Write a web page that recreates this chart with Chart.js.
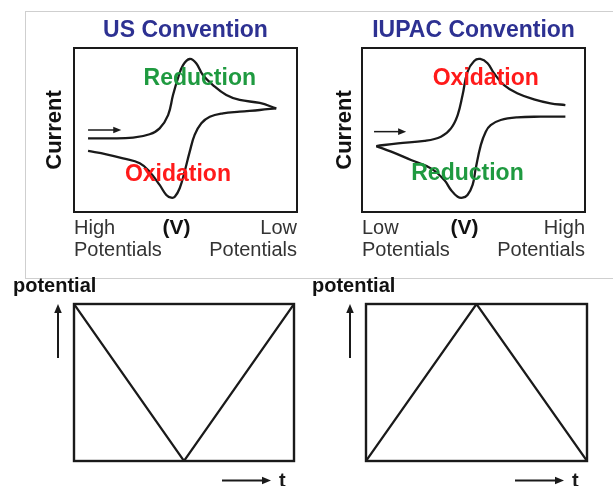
<!DOCTYPE html>
<html>
<head>
<meta charset="utf-8">
<script src="https://cdn.jsdelivr.net/npm/chart.js@4.4.1/dist/chart.umd.min.js"></script>
<style>
  html, body { margin: 0; padding: 0; background: #fff; }
  body { width: 613px; height: 486px; position: relative; overflow: hidden; }
  #frame { position: absolute; left: 25px; top: 11px; width: 640px; height: 266px; border: 1px solid #cfcfcf; }
  canvas { position: absolute; }
</style>
</head>
<body>
<div id="frame"></div>
<canvas id="usChart" width="306" height="270" style="left:0;top:0"></canvas>
<canvas id="iupacChart" width="307" height="270" style="left:306px;top:0"></canvas>
<canvas id="usSweep" width="306" height="216" style="left:0;top:270px"></canvas>
<canvas id="iupacSweep" width="307" height="216" style="left:306px;top:270px"></canvas>
<script>
// Voltammograms, x = position along the potential axis (0-100), y = current (0-100)
const usForwardX = [6.3, 14.5, 26.5, 33.9, 38.4, 42.2, 44.4, 46.6, 48.9, 51.9, 54.8, 57.8, 62.3, 68.3, 74.3, 83.3, 90.7];
const usForwardY = [44.9, 44.9, 45.3, 47.4, 51.0, 59.1, 71.3, 81.5, 89.6, 93.3, 90.7, 83.5, 77.4, 71.3, 68.3, 66.5, 63.2];
const usReverseX = [90.7, 83.3, 74.3, 66.8, 60.9, 57.1, 54.1, 51.9, 49.6, 47.4, 45.2, 43.6, 41.4, 38.4, 33.9, 29.5, 22.0, 14.5, 6.3];
const usReverseY = [63.2, 62.2, 61.2, 60.2, 58.1, 54.1, 47.0, 36.8, 24.6, 14.5, 9.3, 8.7, 10.4, 16.5, 24.6, 29.7, 32.7, 35.2, 37.2];

const iupacForwardX = [6.4, 16.1, 28.0, 35.4, 39.9, 42.9, 45.1, 47.3, 50.3, 53.0, 56.3, 59.2, 63.7, 69.6, 77.1, 84.5, 91.2];
const iupacForwardY = [40.2, 41.9, 43.3, 45.9, 51.0, 59.1, 71.3, 85.5, 92.1, 93.3, 90.7, 84.6, 77.4, 72.4, 68.7, 66.3, 65.2];
const iupacReverseX = [6.4, 13.1, 22.0, 30.9, 36.9, 39.9, 42.9, 45.1, 47.3, 49.6, 51.0, 53.3, 55.5, 57.7, 62.2, 69.6, 80.0, 91.2];
const iupacReverseY = [40.2, 36.8, 31.7, 26.6, 19.5, 13.4, 9.3, 8.7, 10.4, 16.5, 26.6, 40.9, 49.0, 53.0, 56.1, 57.7, 58.1, 58.1];

// x tick labels under the voltammograms
const cvTickValues = [0, 46, 100];
const usTickLabels = [['High', 'Potentials'], '(V)', ['Low', 'Potentials']];
const iupacTickLabels = [['Low', 'Potentials'], '(V)', ['High', 'Potentials']];

// potential sweeps
const sweepTime = [0, 1, 2];
const usSweepPotential = [1, 0, 1];
const iupacSweepPotential = [0, 1, 0];

const FONT = "'Liberation Sans', Arial, Helvetica, sans-serif";
Chart.defaults.font.family = FONT;

const GREEN = '#1f9a40';
const RED = '#ff1a1a';
const INK = '#1a1a1a';

const zip = (xs, ys) => xs.map((x, i) => ({x: x, y: ys[i]}));

function drawArrow(ctx, x0, y0, x1, y1, width, head) {
    const a = Math.atan2(y1 - y0, x1 - x0);
    const cos = Math.cos(a), sin = Math.sin(a);
    ctx.lineWidth = width;
    ctx.beginPath();
    ctx.moveTo(x0, y0);
    ctx.lineTo(x1 - cos * head * 0.8, y1 - sin * head * 0.8);
    ctx.stroke();
    ctx.beginPath();
    ctx.moveTo(x1, y1);
    ctx.lineTo(x1 - cos * head - sin * head * 0.42, y1 - sin * head + cos * head * 0.42);
    ctx.lineTo(x1 - cos * head + sin * head * 0.42, y1 - sin * head - cos * head * 0.42);
    ctx.closePath();
    ctx.fill();
}

// frame around the plot, text notes and arrows
const notesPlugin = {
    id: 'notes',
    afterDatasetsDraw(chart, args, opts) {
        const {ctx, chartArea: a, scales: {x, y}} = chart;
        ctx.save();
        ctx.strokeStyle = INK;
        ctx.fillStyle = INK;
        ctx.lineWidth = opts.frameWidth || 2;
        ctx.strokeRect(a.left, a.top, a.right - a.left, a.bottom - a.top);

        (opts.arrows || []).forEach(ar => {
            drawArrow(ctx, x.getPixelForValue(ar.from[0]), y.getPixelForValue(ar.from[1]),
                x.getPixelForValue(ar.to[0]), y.getPixelForValue(ar.to[1]), 1.5, 8);
        });

        if (opts.sweepArrows) {
            drawArrow(ctx, a.left - 16, a.top + 54, a.left - 16, a.top, 2, 9);
            drawArrow(ctx, a.right - 72, a.bottom + 19.5, a.right - 23, a.bottom + 19.5, 2, 9);
            ctx.font = 'bold 20px ' + FONT;
            ctx.textAlign = 'left';
            ctx.textBaseline = 'middle';
            ctx.fillText('t', a.right - 15, a.bottom + 20);
        }

        (opts.labels || []).forEach(l => {
            ctx.font = 'bold 23px ' + FONT;
            ctx.fillStyle = l.color;
            ctx.textAlign = 'center';
            ctx.textBaseline = 'middle';
            ctx.fillText(l.text, x.getPixelForValue(l.x), y.getPixelForValue(l.y));
        });
        ctx.restore();
    }
};

function curve(points) {
    return {
        data: points,
        showLine: true,
        borderColor: INK,
        borderWidth: 2.3,
        pointRadius: 0,
        tension: 0.4,
        fill: false
    };
}

function makeCvChart(id, title, forward, reverse, tickLabels, notes, padRight, yTitlePad) {
    return new Chart(document.getElementById(id), {
        type: 'scatter',
        data: {datasets: [curve(forward), curve(reverse)]},
        options: {
            responsive: false,
            animation: false,
            layout: {padding: {left: 0, right: padRight, top: 0, bottom: 4}},
            plugins: {
                legend: {display: false},
                tooltip: {enabled: false},
                title: {
                    display: true,
                    text: title,
                    color: '#2d3192',
                    fullSize: false,
                    font: {size: 23, weight: 'bold', lineHeight: 1.2},
                    padding: {top: 17.2, bottom: 3.2}
                },
                notes: notes
            },
            scales: {
                x: {
                    type: 'linear',
                    min: 0,
                    max: 100,
                    grid: {display: false, drawTicks: false},
                    border: {display: false},
                    afterBuildTicks: axis => { axis.ticks = cvTickValues.map(v => ({value: v})); },
                    ticks: {
                        autoSkip: false,
                        maxRotation: 0,
                        align: 'inner',
                        padding: 5,
                        callback: (value, index) => tickLabels[index],
                        color: ctx => ctx.index === 1 ? '#111' : '#333',
                        font: ctx => ctx.index === 1
                            ? {size: 21, weight: 'bold', lineHeight: 1.1}
                            : {size: 20, lineHeight: 1.1}
                    }
                },
                y: {
                    min: 0,
                    max: 100,
                    grid: {display: false, drawTicks: false},
                    border: {display: false},
                    ticks: {display: false},
                    title: {
                        display: true,
                        text: 'Current',
                        color: '#111',
                        font: {size: 22, weight: 'bold', lineHeight: 1.2},
                        padding: yTitlePad
                    }
                }
            }
        },
        plugins: [notesPlugin]
    });
}

function makeSweepChart(id, potential, pad, axisWidth) {
    return new Chart(document.getElementById(id), {
        type: 'scatter',
        data: {
            datasets: [{
                data: zip(sweepTime, potential),
                showLine: true,
                borderColor: INK,
                borderWidth: 2.2,
                pointRadius: 0,
                tension: 0
            }]
        },
        options: {
            responsive: false,
            animation: false,
            layout: {padding: pad},
            plugins: {
                legend: {display: false},
                tooltip: {enabled: false},
                title: {
                    display: true,
                    text: 'potential',
                    align: 'start',
                    color: '#111',
                    font: {size: 20, weight: 'bold', lineHeight: 1.2},
                    padding: {top: 4, bottom: 6}
                },
                notes: {sweepArrows: true, frameWidth: 2.4}
            },
            scales: {
                x: {display: false, type: 'linear', min: 0, max: 2},
                y: {
                    min: 0,
                    max: 1,
                    grid: {display: false, drawTicks: false},
                    border: {display: false},
                    ticks: {display: false},
                    afterFit: scale => { scale.width = axisWidth; }
                }
            }
        },
        plugins: [notesPlugin]
    });
}

makeCvChart('usChart', 'US Convention',
    zip(usForwardX, usForwardY), zip(usReverseX, usReverseY), usTickLabels,
    {
        labels: [
            {text: 'Reduction', color: GREEN, x: 56.4, y: 81.5},
            {text: 'Oxidation', color: RED, x: 46.6, y: 22.6}
        ],
        arrows: [{from: [6.3, 50], to: [21.2, 50]}]
    },
    9, {top: 41.8, bottom: 5.8});

makeCvChart('iupacChart', 'IUPAC Convention',
    zip(iupacForwardX, iupacForwardY), zip(iupacReverseX, iupacReverseY), iupacTickLabels,
    {
        labels: [
            {text: 'Oxidation', color: RED, x: 55.5, y: 81.5},
            {text: 'Reduction', color: GREEN, x: 47.3, y: 23.6}
        ],
        arrows: [{from: [5.4, 49], to: [19.8, 49]}]
    },
    28, {top: 25.8, bottom: 3.8});

makeSweepChart('usSweep', usSweepPotential, {left: 13, right: 12, top: 0, bottom: 25}, 61);
makeSweepChart('iupacSweep', iupacSweepPotential, {left: 6, right: 26, top: 0, bottom: 25}, 54);
</script>
</body>
</html>
